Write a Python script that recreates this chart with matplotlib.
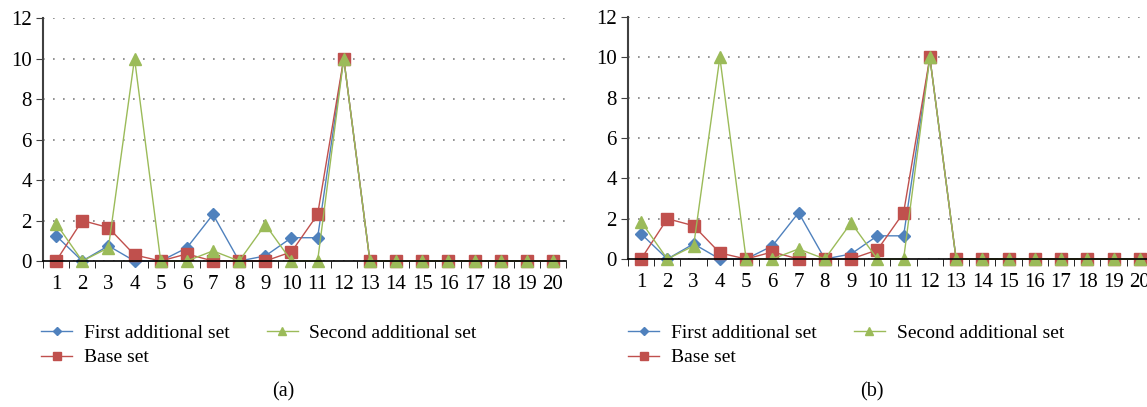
import matplotlib.pyplot as plt

plt.rcParams['font.family'] = ['Liberation Serif', 'DejaVu Serif']

# category positions 1..20
cats = list(range(1, 21))

# values (both panels show the same data)
first_set = [1.25, 0, 0.75, 0, 0, 0.65, 2.3, 0, 0.25, 1.15, 1.15, 10,
             0, 0, 0, 0, 0, 0, 0, 0]
base_set = [0, 2.0, 1.65, 0.3, 0, 0.35, 0, 0, 0, 0.45, 2.3, 10,
            0, 0, 0, 0, 0, 0, 0, 0]
second_set = [1.85, 0, 0.65, 10, 0, 0, 0.5, 0, 1.8, 0, 0, 10,
              0, 0, 0, 0, 0, 0, 0, 0]

yticks = [0, 2, 4, 6, 8, 10, 12]
panel_labels = ["(a)", "(b)"]

blue = "#4F81BD"
red = "#C0504D"
green = "#9BBB59"

fig = plt.figure(figsize=(11.47, 4.07), dpi=100)

axes_boxes = [[0.0375, 0.3587, 0.456, 0.597],
              [0.5475, 0.3636, 0.4577, 0.5946]]
legend_x = [0.029, 0.541]
caption_x = [0.247, 0.760]

for i, box in enumerate(axes_boxes):
    ax = fig.add_axes(box)
    l1, = ax.plot(cats, first_set, color=blue, marker="D", markersize=6.5,
                  linewidth=1.0, label="First additional set", clip_on=False)
    l2, = ax.plot(cats, base_set, color=red, marker="s", markersize=8,
                  linewidth=1.0, label="Base set", clip_on=False)
    l3, = ax.plot(cats, second_set, color=green, marker="^", markersize=9,
                  linewidth=1.0, label="Second additional set", clip_on=False)

    ax.set_xlim(0.5, 20.5)
    ax.set_ylim(0, 12)
    ax.set_yticks(yticks)
    ax.set_xticks(cats)
    ax.set_xticks([c + 0.5 for c in cats[:-1]] + [0.5, 20.5], minor=True)
    ax.tick_params(axis="x", which="major", length=0, labelsize=15, pad=10)
    ax.tick_params(axis="x", which="minor", length=5, direction="out",
                   color="black")
    ax.tick_params(axis="y", length=5, direction="out", labelsize=15,
                   color="#404040", pad=3)
    ax.yaxis.grid(True, linestyle=(0, (1, 5)), color="#808080", linewidth=1.2)
    ax.set_axisbelow(True)
    for s in ["top", "right"]:
        ax.spines[s].set_visible(False)
    ax.spines["left"].set_color("#404040")
    ax.spines["left"].set_linewidth(1.5)
    ax.spines["bottom"].set_color("black")
    ax.spines["bottom"].set_linewidth(1.2)

    ax.legend(handles=[l1, l2, l3], loc="upper left", ncol=2,
              bbox_to_anchor=(legend_x[i], 0.222), bbox_transform=fig.transFigure,
              frameon=False, fontsize=14, handlelength=1.6, handletextpad=0.6,
              columnspacing=1.9, labelspacing=0.35, markerscale=0.65,
              borderaxespad=0)
    fig.text(caption_x[i], 0.025, panel_labels[i], fontsize=14.5, ha="center")

fig.savefig("out.png", dpi=100)
